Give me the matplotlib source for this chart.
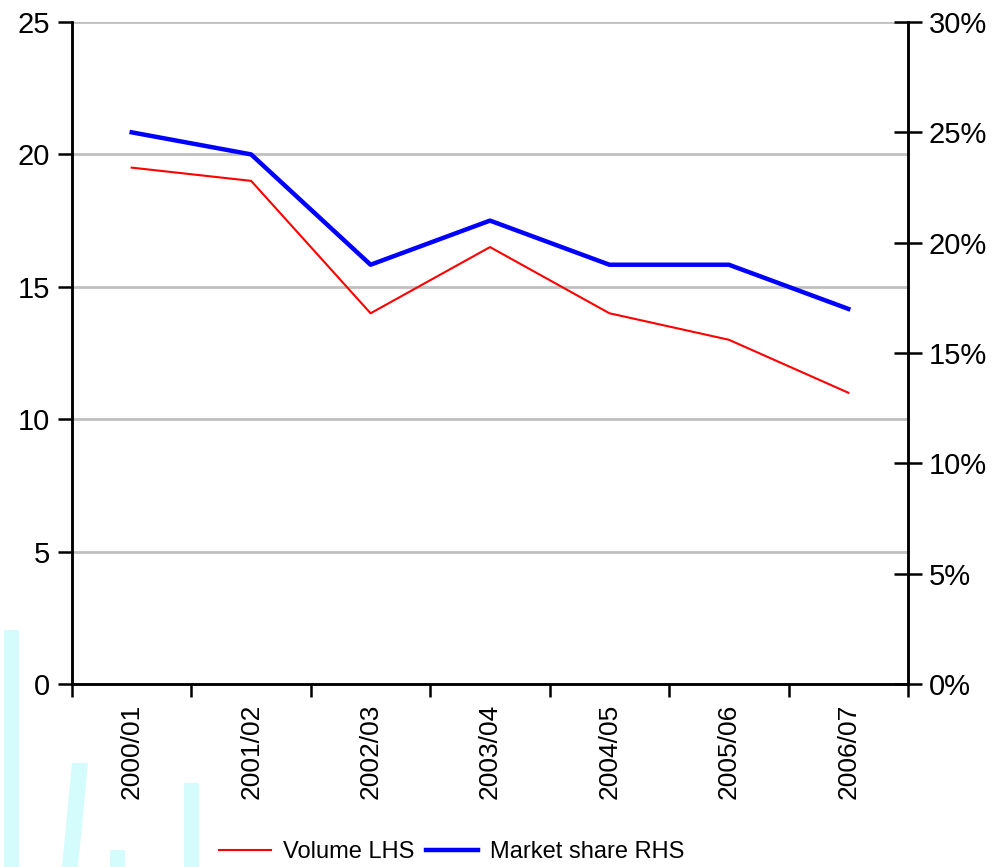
import matplotlib.pyplot as plt
from matplotlib.patches import Polygon
from matplotlib.ticker import FuncFormatter, FixedLocator
import numpy as np

plt.rcParams['font.family'] = ['Liberation Sans Narrow', 'Liberation Sans', 'DejaVu Sans']

years = ['2000/01', '2001/02', '2002/03', '2003/04', '2004/05', '2005/06', '2006/07']
volume = [19.5, 19.0, 14.0, 16.5, 14.0, 13.0, 11.0]
market_share = [25, 24, 19, 21, 19, 19, 17]  # percent

fig = plt.figure(figsize=(9.96, 8.67), dpi=100)

# faint cyan marks behind the bottom-left corner
W, H = 996, 867
shapes = [
    [(4, 630), (19, 630), (19, 867), (4, 867)],
    [(72, 763), (88, 763), (78, 867), (62, 867)],
    [(110, 850), (125, 850), (125, 867), (110, 867)],
    [(184, 783), (199, 783), (199, 867), (184, 867)],
]
for s in shapes:
    pts = [(x / W, 1 - y / H) for x, y in s]
    fig.patches.append(Polygon(pts, closed=True, transform=fig.transFigure,
                               facecolor='#d4fcfc', edgecolor='none', zorder=0))

ax = fig.add_axes([72 / W, 1 - 684 / H, (908 - 72) / W, (684 - 22) / H])
ax.patch.set_alpha(0)
x = np.arange(len(years))

ax.set_xlim(-0.5, len(years) - 0.5)
ax.set_ylim(0, 25)
ax.set_yticks([0, 5, 10, 15, 20, 25])
for v in [5, 10, 15, 20, 25]:
    ax.axhline(v, color='#c0c0c0', lw=2, zorder=1)

red, = ax.plot(x, volume, color='#ff0000', lw=1.5, zorder=3)

ax2 = ax.twinx()
ax2.set_ylim(0, 30)
ax2.set_yticks(np.arange(0, 31, 5))
ax2.yaxis.set_major_formatter(FuncFormatter(lambda v, p: f'{int(v)}%'))
blue, = ax2.plot(x, market_share, color='#0000ff', lw=3.2, zorder=3)

ax.xaxis.set_major_locator(FixedLocator(np.arange(-0.5, len(years), 1)))
ax.xaxis.set_minor_locator(FixedLocator(x))
ax.set_xticklabels([])
ax.set_xticklabels(years, minor=True, rotation=90, va='top', ha='center')
ax.tick_params(axis='x', which='major', direction='out', length=9, width=1.8)
ax.tick_params(axis='x', which='minor', length=0, pad=14, labelsize=19)
ax.tick_params(axis='y', direction='out', length=10, width=1.8, labelsize=21, pad=6)
ax2.tick_params(axis='y', direction='inout', length=20, width=1.8, labelsize=21, pad=5)

for a in (ax, ax2):
    a.spines['top'].set_visible(False)
    for sp in ('left', 'right', 'bottom'):
        a.spines[sp].set_linewidth(1.8)

fig.legend([red, blue], ['Volume LHS', 'Market share RHS'], loc='center',
           bbox_to_anchor=(452 / W, 1 - 852 / H), ncol=2, frameon=False,
           fontsize=17, handlelength=2.2, columnspacing=0.5, handletextpad=0.5)

fig.savefig('out.png', dpi=100)
